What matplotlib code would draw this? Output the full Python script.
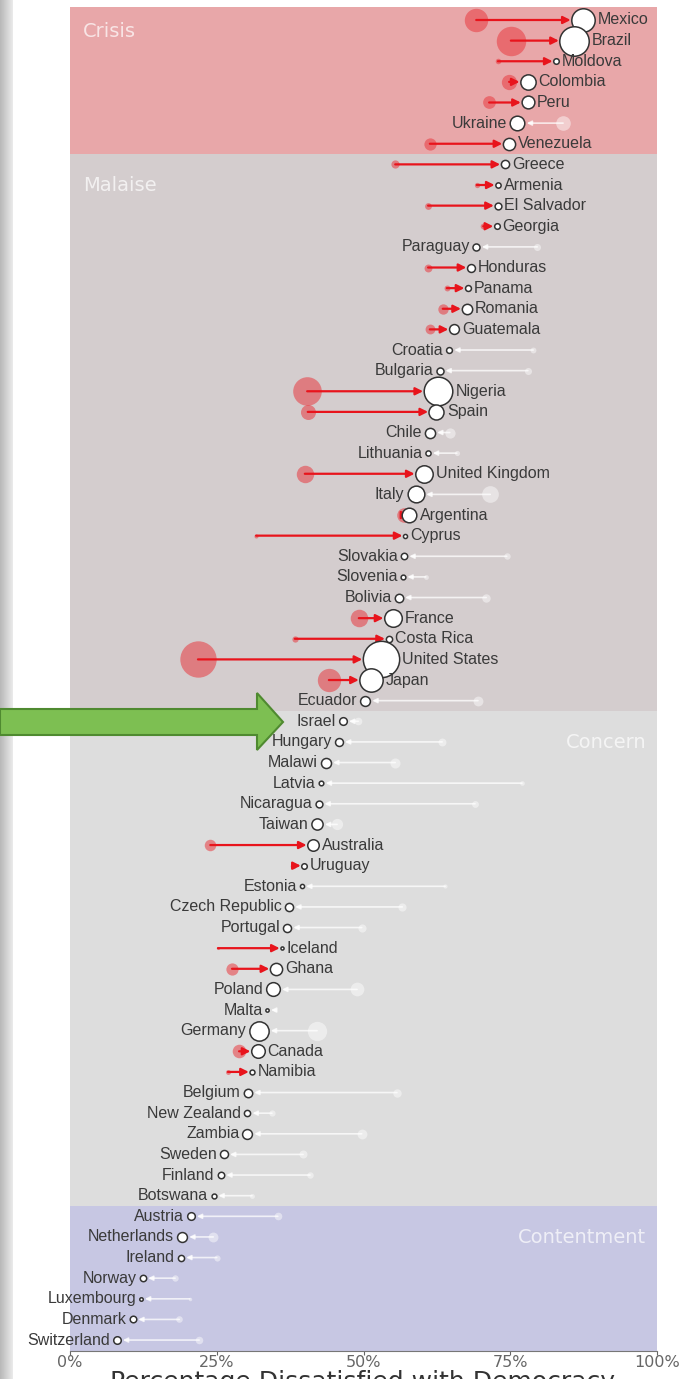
import matplotlib.pyplot as plt
import numpy as np
from matplotlib.patches import Polygon

# data (percent dissatisfied, earlier -> latest)
countries = [
    "Mexico", "Brazil", "Moldova", "Colombia", "Peru", "Ukraine", "Venezuela",
    "Greece", "Armenia", "El Salvador", "Georgia", "Paraguay", "Honduras", "Panama",
    "Romania", "Guatemala", "Croatia", "Bulgaria", "Nigeria", "Spain", "Chile",
    "Lithuania", "United Kingdom", "Italy", "Argentina", "Cyprus", "Slovakia",
    "Slovenia", "Bolivia", "France", "Costa Rica", "United States", "Japan", "Ecuador",
    "Israel", "Hungary", "Malawi", "Latvia", "Nicaragua", "Taiwan", "Australia",
    "Uruguay", "Estonia", "Czech Republic", "Portugal", "Iceland", "Ghana", "Poland",
    "Malta", "Germany", "Canada", "Namibia", "Belgium", "New Zealand", "Zambia",
    "Sweden", "Finland", "Botswana",
    "Austria", "Netherlands", "Ireland", "Norway", "Luxembourg", "Denmark", "Switzerland",
]
current = [
    87.4, 85.9, 82.8, 78.0, 78.0, 76.2, 74.8,
    74.1, 72.9, 72.9, 72.7, 69.2, 68.3, 67.8,
    67.6, 65.4, 64.6, 63.0, 62.7, 62.4, 61.3,
    61.0, 60.3, 58.9, 57.8, 57.1, 56.9,
    56.7, 56.0, 55.0, 54.3, 53.0, 51.3, 50.3,
    46.5, 45.8, 43.6, 42.8, 42.4, 42.1, 41.4,
    39.9, 39.5, 37.3, 37.0, 36.1, 35.1, 34.6,
    33.6, 32.2, 32.0, 31.0, 30.3, 30.2, 30.2,
    26.2, 25.7, 24.5,
    20.6, 19.1, 18.9, 12.4, 12.1, 10.7, 8.0,
]
previous = [
    69.2, 75.1, 72.9, 74.8, 71.4, 84.0, 61.3,
    55.4, 69.3, 61.0, 70.4, 79.6, 61.0, 64.2,
    63.5, 61.3, 78.9, 78.0, 40.4, 40.5, 64.7,
    65.9, 40.0, 71.6, 56.9, 31.7, 74.4,
    60.6, 70.9, 49.2, 38.3, 21.8, 44.1, 69.5,
    49.1, 63.4, 55.4, 77.0, 69.0, 45.5, 23.9,
    38.0, 63.9, 56.6, 49.7, 25.2, 27.6, 48.9,
    34.9, 42.1, 28.8, 26.9, 55.7, 34.4, 49.7,
    39.7, 40.9, 31.0,
    35.4, 24.4, 25.0, 17.9, 20.4, 18.6, 22.0,
]
# population in millions (drives circle size)
population = [
    127, 209, 3.5, 49, 32, 44, 29,
    10.7, 3, 6.4, 3.7, 7, 9.6, 4.2,
    19.4, 17, 4.1, 7, 196, 47, 18.7,
    2.8, 66, 60, 44, 1.2, 5.4,
    2.1, 11.4, 67, 5, 327, 126, 17,
    8.9, 9.8, 18, 1.9, 6.5, 23.6, 25,
    3.5, 1.3, 10.6, 10.3, 0.35, 29, 38,
    0.48, 83, 37, 2.4, 11.4, 4.9, 17,
    10.2, 5.5, 2.3,
    8.8, 17.2, 4.8, 5.3, 0.6, 5.8, 8.5,
]
band_names = ["Crisis", "Malaise", "Concern", "Contentment"]
band_counts = [7, 27, 24, 7]
band_colors = ["#e8a7a9", "#d4cdce", "#dddddd", "#c7c7e3"]
xticks = [0, 25, 50, 75, 100]

W, H = 685, 1379
fig = plt.figure(figsize=(W / 100, H / 100), dpi=100)
ax = fig.add_axes([70 / W, 1 - 1351 / H, 587 / W, 1344 / H])

n = len(countries)
ax.set_xlim(0, 100)
ax.set_ylim(n - 0.47, -0.63)

# background bands
start = -0.63
edges = np.cumsum(band_counts) - 0.5
for i, (name, col) in enumerate(zip(band_names, band_colors)):
    end = edges[i] if i < len(band_counts) - 1 else n - 0.47
    ax.axhspan(start, end, color=col, lw=0, zorder=0)
    start = end

ax.text(2.2, 0.58, "Crisis", color="white", alpha=0.7, fontsize=14,
        va="center", ha="left")
ax.text(2.2, 8.0, "Malaise", color="white", alpha=0.7, fontsize=14,
        va="center", ha="left")
ax.text(98.2, 35.05, "Concern", color="white", alpha=0.7, fontsize=14,
        va="center", ha="right")
ax.text(98.2, 59.05, "Contentment", color="white", alpha=0.7, fontsize=14,
        va="center", ha="right")

radius_px = 0.95 * np.sqrt(np.array(population)) + 1.0
for i, name in enumerate(countries):
    cur, prev = current[i], previous[i]
    r = radius_px[i]
    s = (2 * r * 0.72) ** 2
    up = cur > prev
    if up:
        ax.scatter(prev, i, s=s, color="#e83a40", alpha=0.55, lw=0, zorder=2)
        ax.annotate("", xy=(cur, i), xytext=(prev, i),
                    arrowprops=dict(arrowstyle="-|>", color="#e8141c", lw=1.6,
                                    mutation_scale=11, shrinkA=0,
                                    shrinkB=r * 0.72 + 0.5),
                    zorder=3)
    else:
        ax.scatter(prev, i, s=s, color="white", alpha=0.45, lw=0, zorder=2)
        ax.annotate("", xy=(cur, i), xytext=(prev, i),
                    arrowprops=dict(arrowstyle="-|>", color="white", alpha=0.75,
                                    lw=1.2, mutation_scale=7, shrinkA=0,
                                    shrinkB=r * 0.72 + 1.5),
                    zorder=3)
    ax.scatter(cur, i, s=s, facecolor="white", edgecolor="#333333", lw=1.1,
               zorder=4)
    off = (r + 3) * 0.72
    ax.annotate(name, xy=(cur, i), xytext=(off if up else -off, 0),
                textcoords="offset points", ha="left" if up else "right",
                va="center", fontsize=11.5, color="#3a3a3a",
                family="Liberation Sans", zorder=5)

ax.set_yticks([])
ax.set_xticks(xticks)
ax.set_xticklabels([f"{t}%" for t in xticks])
ax.tick_params(axis="x", colors="#666666", labelsize=11.5, length=3, pad=0)
for side in ["top", "right", "left"]:
    ax.spines[side].set_visible(False)
ax.spines["bottom"].set_color("#777777")

# axis title sits at the very bottom edge, as in the reference
fig.text(363 / W, 1 - 1370 / H, "Percentage Dissatisfied with Democracy",
         fontsize=18, color="#333333", ha="center", va="top")

# grey strip at the left edge
strip = fig.add_axes([0, 0, 12 / W, 1])
strip.imshow(np.linspace(0.72, 0.92, 50).reshape(1, -1), cmap="gray",
             vmin=0, vmax=1, aspect="auto")
strip.axis("off")

# green pointer arrow
pts = [(0, 709), (257, 709), (257, 693), (283, 722), (257, 750), (257, 735), (0, 735)]
pts = [(x / W, 1 - y / H) for x, y in pts]
fig.patches.append(Polygon(pts, closed=True, facecolor="#7dbf52", edgecolor="#4f8a30",
                           lw=1.5, transform=fig.transFigure, figure=fig, zorder=10))

fig.savefig("out.png", dpi=100)
